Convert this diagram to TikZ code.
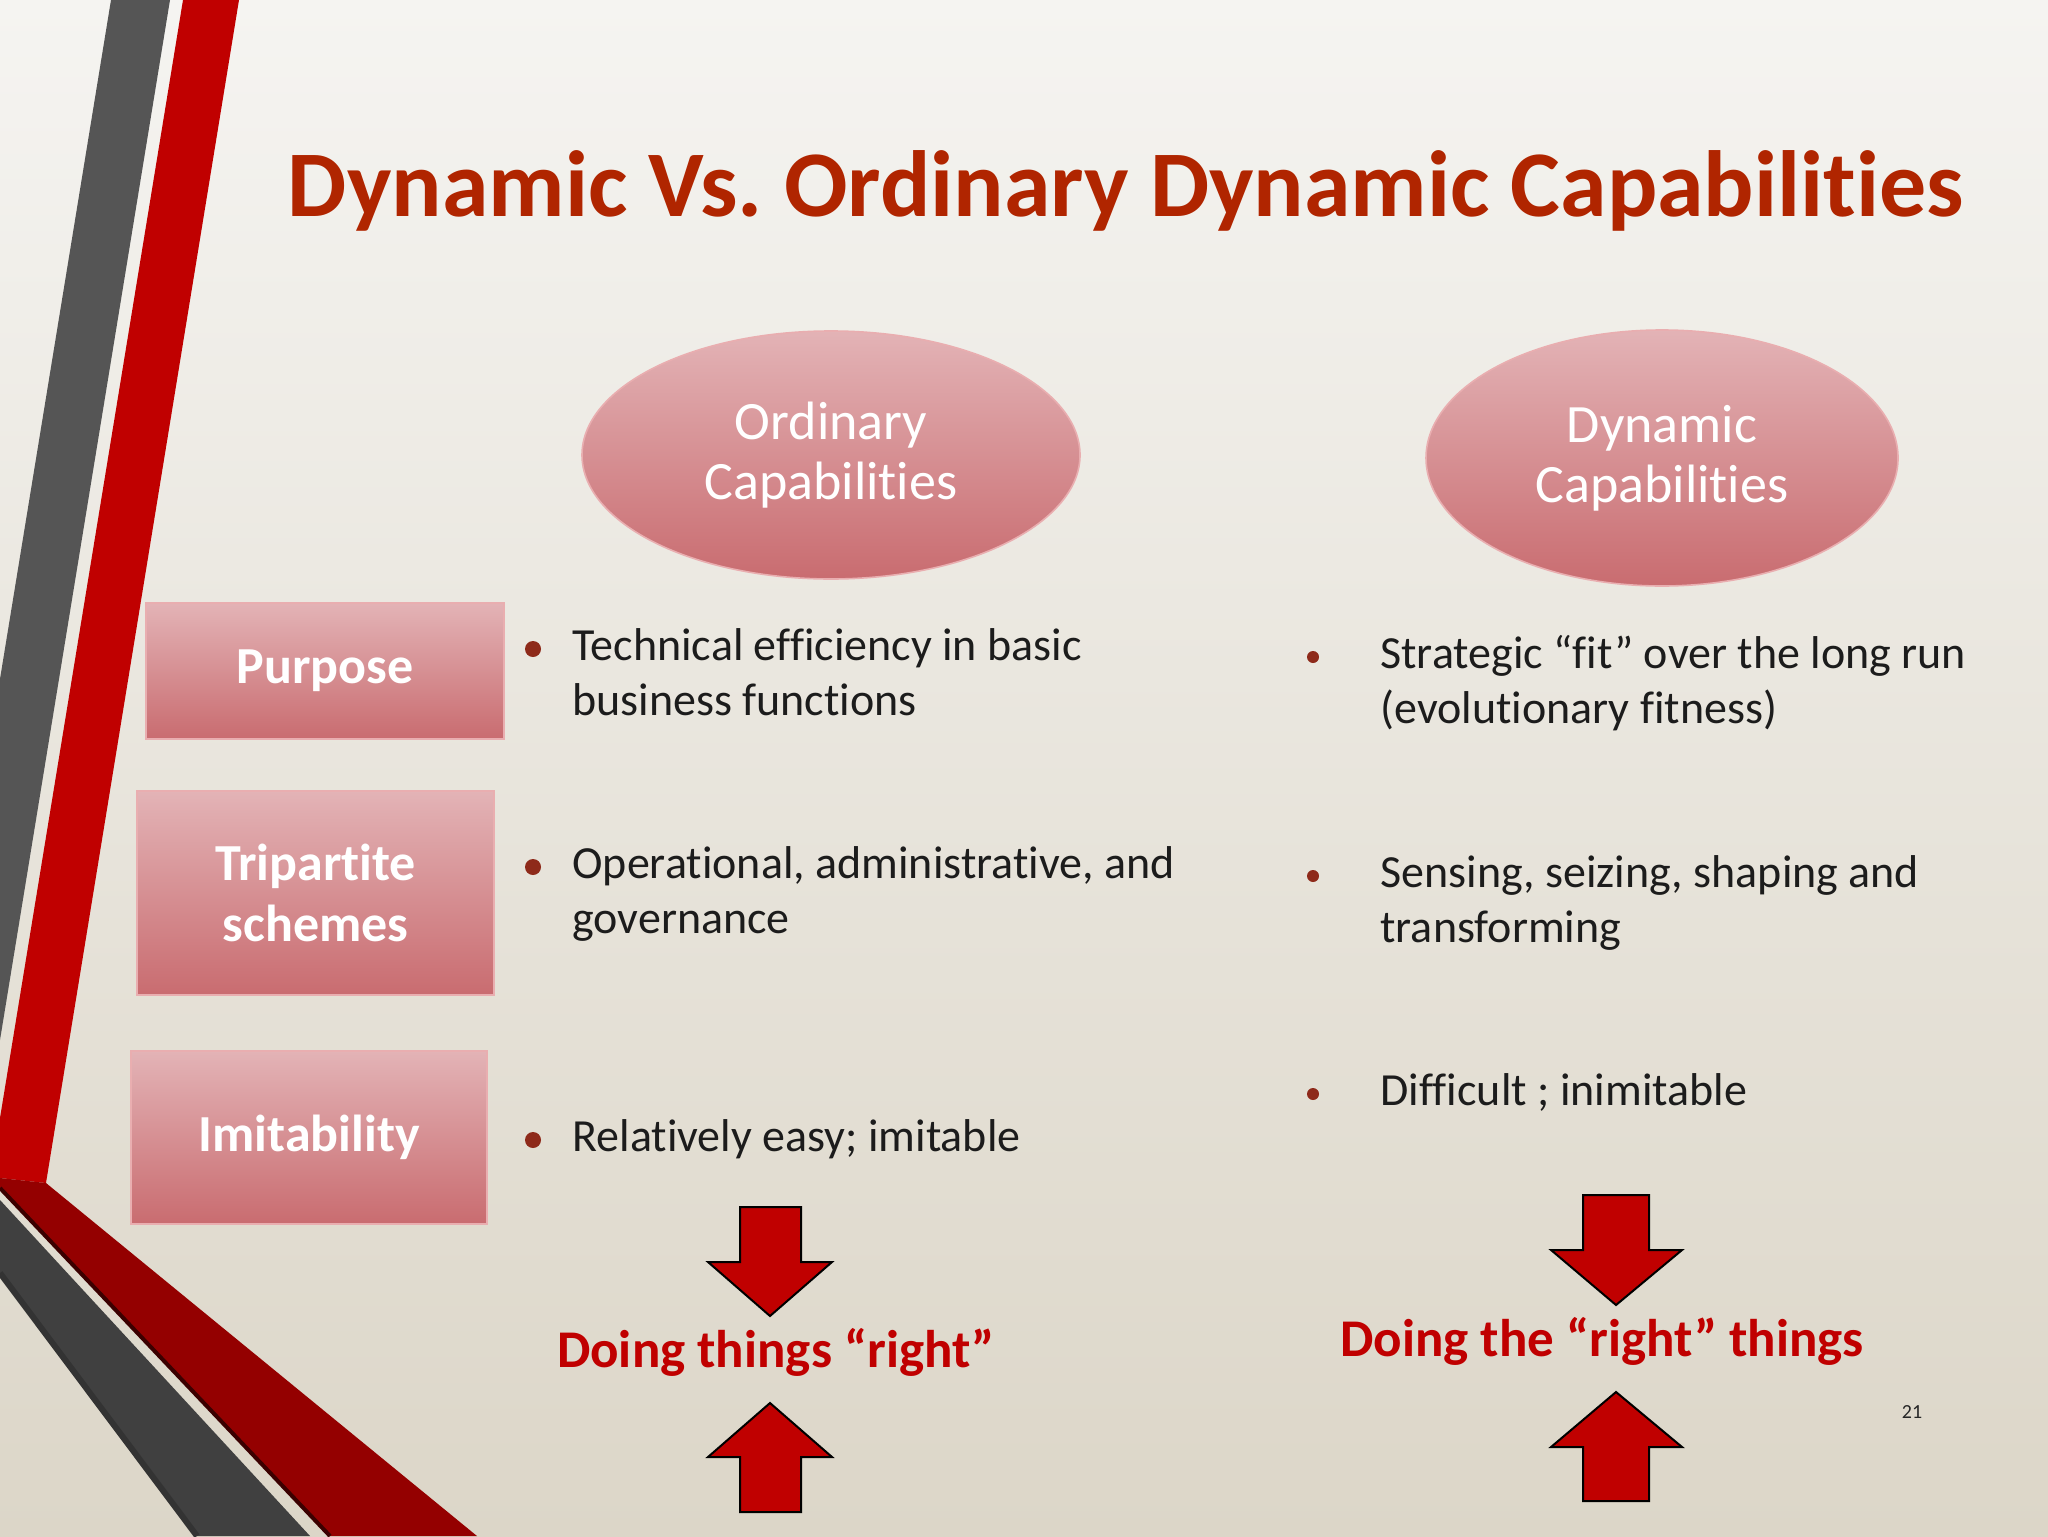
\documentclass[tikz,border=0pt]{standalone}
\usepackage{fontspec}
\setmainfont{Carlito}[Ligatures={NoCommon,NoContextual}]
\frenchspacing
\usetikzlibrary{shapes.geometric}
\definecolor{bgtop}{HTML}{F5F4F1}
\definecolor{bgmid}{HTML}{F1EFEB}
\definecolor{bgbot}{HTML}{DCD6C8}
\definecolor{stripegray}{HTML}{555555}
\definecolor{bandgray}{HTML}{404040}
\definecolor{stripered}{HTML}{C00000}
\definecolor{bandred}{HTML}{940000}
\definecolor{pinktop}{HTML}{E3B3B6}
\definecolor{pinkbot}{HTML}{C96C70}
\definecolor{pinkedge}{HTML}{E9AEB0}
\definecolor{titlered}{HTML}{B02500}
\definecolor{bulletred}{HTML}{8E2A1A}
\definecolor{bodyblack}{HTML}{1C1C1C}
\definecolor{arrowred}{HTML}{C00000}
\tikzset{
  labelbox/.style={rectangle, top color=pinktop, bottom color=pinkbot, draw=pinkedge, line width=1pt,
    inner sep=0pt, text=white, align=center, font=\fontsize{26}{30.5}\selectfont\bfseries},
  oval/.style={ellipse, top color=pinktop, bottom color=pinkbot, draw=pinkedge, line width=0.8pt,
    inner sep=0pt, text=white, align=center, font=\fontsize{27}{30}\selectfont},
  bodytext/.style={inner sep=0pt, anchor=base west, text=bodyblack, font=\fontsize{23}{27.5}\selectfont},
  bigdot/.style={circle, fill=bulletred, inner sep=0pt, minimum size=8pt},
  smalldot/.style={circle, fill=bulletred, inner sep=0pt, minimum size=6pt},
  blockarrow/.style={fill=arrowred, draw=black, line width=1pt, line join=miter},
  result/.style={inner sep=0pt, anchor=base, text=arrowred, font=\fontsize{26.5}{31}\selectfont\bfseries},
}
\begin{document}
\begin{tikzpicture}[x=0.5pt,y=-0.5pt]
\useasboundingbox (0,0) rectangle (2048,1536);
% background
\shade[top color=bgtop, middle color=bgmid, bottom color=bgbot] (0,0) rectangle (2048,1536);
% left decorative stripes
\fill[stripegray] (111,0) -- (170,0) -- (0,1040) -- (0,679) -- cycle;
\fill[stripered] (183,0) -- (239,0) -- (46,1183) -- (0,1178) -- (0,1118) -- cycle;
\fill[bandred] (0,1178) -- (46,1183) -- (477,1536) -- (330,1536) -- (0,1188) -- cycle;
\draw[color=black!60!bandred, line width=2pt] (0,1188) -- (330,1536);
\fill[bandgray] (0,1200) -- (310,1536) -- (197,1536) -- (0,1273) -- cycle;
\draw[color=black!80, line width=3pt] (0,1273) -- (197,1536);
% title
\node[inner sep=0pt, anchor=base, text=titlered, font=\fontsize{47}{56}\selectfont\bfseries]
  (title) at (1126,216) {Dynamic Vs. Ordinary Dynamic Capabilities};
% ellipses
\node[oval, minimum width=249pt, minimum height=124pt] (ord) at (831,455) {Ordinary\\Capabilities};
\node[oval, minimum width=236pt, minimum height=128pt] (dyn) at (1662,458) {Dynamic\\Capabilities};
% row labels
\node[labelbox, minimum width=179pt, minimum height=68pt] (purpose) at (325,671) {Purpose};
\node[labelbox, minimum width=178.5pt, minimum height=102pt] (tri) at (315.5,893) {Tripartite\\schemes};
\node[labelbox, minimum width=178pt, minimum height=86.5pt] (imit) at (309,1137.5) {Imitability};
% left column bullets
\node[bigdot] (b1) at (533,649) {};
\node[bodytext] (t1) at (572,660) {\begin{tabular}[t]{@{}l@{}}Technical efficiency in basic\\business functions\end{tabular}};
\node[bigdot] (b2) at (533,867) {};
\node[bodytext] (t2) at (572,878) {\begin{tabular}[t]{@{}l@{}}Operational, administrative, and\\governance\end{tabular}};
\node[bigdot] (b3) at (533,1140) {};
\node[bodytext] (t3) at (572,1151) {Relatively easy; imitable};
% right column bullets
\node[smalldot] (c1) at (1313,657) {};
\node[bodytext] (u1) at (1380,668) {\begin{tabular}[t]{@{}l@{}}Strategic “fit” over the long run\\(evolutionary fitness)\end{tabular}};
\node[smalldot] (c2) at (1313,876) {};
\node[bodytext] (u2) at (1380,887) {\begin{tabular}[t]{@{}l@{}}Sensing, seizing, shaping and\\transforming\end{tabular}};
\node[smalldot] (c3) at (1313,1094) {};
\node[bodytext] (u3) at (1380,1105) {Difficult ; inimitable};
% block arrows left
\draw[blockarrow] (740,1207) -- (801,1207) -- (801,1262) -- (832,1262) -- (770,1316) -- (708,1262) -- (740,1262) -- cycle;
\draw[blockarrow] (740,1512) -- (801,1512) -- (801,1457) -- (832,1457) -- (770,1403) -- (708,1457) -- (740,1457) -- cycle;
\node[result] (r1) at (776,1367) {Doing things “right”};
% block arrows right
\draw[blockarrow] (1583,1195) -- (1649,1195) -- (1649,1250) -- (1682,1250) -- (1616,1305) -- (1551,1250) -- (1583,1250) -- cycle;
\draw[blockarrow] (1583,1501) -- (1649,1501) -- (1649,1447) -- (1682,1447) -- (1616,1392) -- (1551,1447) -- (1583,1447) -- cycle;
\node[result] (r2) at (1602,1356) {Doing the “right” things};
% page number
\node[inner sep=0pt, text=black!85, font=\fontsize{10}{12}\selectfont] (page) at (1912,1412) {21};
\end{tikzpicture}
\end{document}
